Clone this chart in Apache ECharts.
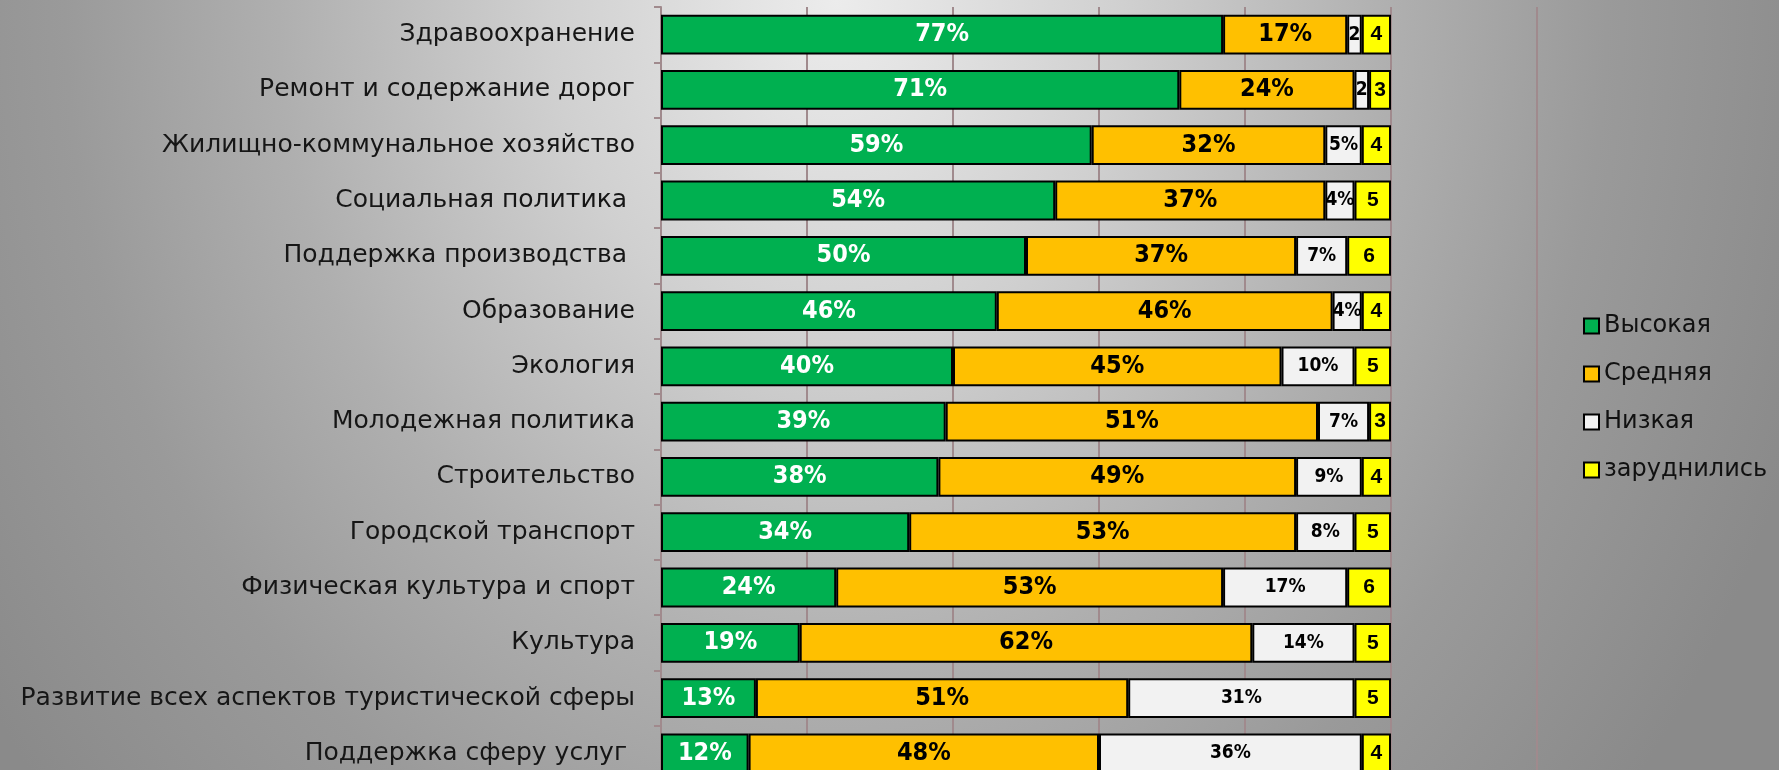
<!DOCTYPE html>
<html>
<head>
<meta charset="utf-8">
<script src="https://cdn.jsdelivr.net/npm/echarts@6/dist/echarts.min.js"></script>
<style>
  html, body { margin: 0; padding: 0; }
  body {
    width: 1779px; height: 770px; overflow: hidden;
    background: radial-gradient(ellipse 820px 1000px at 47% 0%, #ececec 0%, #d0d0d0 35%, #afafaf 68%, #9a9a9a 94%, #8a8a8a 125%);
  }
  #chart { width: 1779px; height: 770px; }
</style>
</head>
<body>
<div id="chart"></div>
<script>
// оценки по сферам, %
const categories = [
  'Здравоохранение',
  'Ремонт и содержание дорог',
  'Жилищно-коммунальное хозяйство',
  'Социальная политика ',
  'Поддержка производства ',
  'Образование',
  'Экология',
  'Молодежная политика',
  'Строительство',
  'Городской транспорт',
  'Физическая культура и спорт',
  'Культура',
  'Развитие всех аспектов туристической сферы',
  'Поддержка сферу услуг '
];
const seriesNames = ['Высокая', 'Средняя', 'Низкая', 'заруднились'];
const high  = [77, 71, 59, 54, 50, 46, 40, 39, 38, 34, 24, 19, 13, 12];
const mid   = [17, 24, 32, 37, 37, 46, 45, 51, 49, 53, 53, 62, 51, 48];
const low   = [2, 2, 5, 4, 7, 4, 10, 7, 9, 8, 17, 14, 31, 36];
const stuck = [4, 3, 4, 5, 6, 4, 5, 3, 4, 5, 6, 5, 5, 4];

const colors = ['#00B050', '#FFC000', '#F2F2F2', '#FFFF00'];
const gridColor = '#a08a8d';
const condensed = '"DejaVu Sans Condensed", "Liberation Sans Narrow", sans-serif';

const chart = echarts.init(document.getElementById('chart'), null, { renderer: 'canvas' });

const bigLabel = (color) => ({
  show: true,
  position: 'inside',
  color: color,
  fontFamily: condensed,
  fontWeight: 'bold',
  fontSize: 25,
  formatter: (p) => p.value + '%'
});

function makeSeries(name, data, idx, label) {
  return {
    name: name,
    type: 'bar',
    stack: 'total',
    data: data,
    barCategoryGap: '28%',
    itemStyle: { color: colors[idx], borderColor: '#000', borderWidth: 2 },
    label: label,
    emphasis: { disabled: true },
    animation: false
  };
}

const option = {
  backgroundColor: 'transparent',
  // сетка уходит за нижний край, как на слайде
  grid: { left: 661, right: 242, top: 7, height: 774, containLabel: false, outerBoundsMode: 'none' },
  legend: {
    orient: 'vertical',
    left: 1578,
    top: 309,
    itemWidth: 15,
    itemHeight: 15,
    itemGap: 24,
    icon: 'rect',
    data: seriesNames,
    textStyle: { fontFamily: '"DejaVu Sans", sans-serif', fontSize: 24, color: '#111', lineHeight: 24 }
  },
  xAxis: {
    type: 'value',
    min: 0,
    max: 120,
    interval: 20,
    axisLabel: { show: false },
    axisLine: { show: false },
    axisTick: { show: false },
    splitLine: { show: true, lineStyle: { color: gridColor, width: 2 } }
  },
  yAxis: {
    type: 'category',
    inverse: true,
    data: categories,
    axisLine: { show: true, lineStyle: { color: gridColor, width: 2 } },
    axisTick: { show: true, length: 7, lineStyle: { color: gridColor, width: 2 } },
    axisLabel: {
      margin: 26,
      fontFamily: '"DejaVu Sans", sans-serif',
      fontSize: 25,
      color: '#161616'
    }
  },
  series: [
    makeSeries(seriesNames[0], high, 0, bigLabel('#fff')),
    makeSeries(seriesNames[1], mid, 1, bigLabel('#000')),
    makeSeries(seriesNames[2], low, 2, {
      show: true,
      position: 'inside',
      color: '#000',
      fontFamily: condensed,
      fontWeight: 'bold',
      fontSize: 19,
      formatter: (p) => (p.value > 2 ? p.value + '%' : String(p.value))
    }),
    makeSeries(seriesNames[3], stuck, 3, {
      show: true,
      position: 'inside',
      color: '#000',
      fontFamily: '"Liberation Sans", Arial, sans-serif',
      fontWeight: 'bold',
      fontSize: 21,
      formatter: (p) => String(p.value)
    })
  ]
};

chart.setOption(option);
window.addEventListener('resize', () => chart.resize());
</script>
</body>
</html>
